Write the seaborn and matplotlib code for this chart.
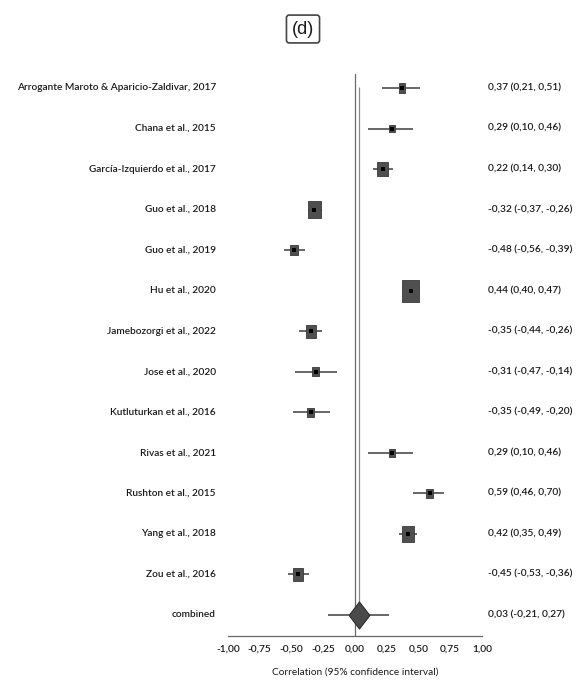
import numpy as np
import pandas as pd
import matplotlib
matplotlib.use("Agg")
import matplotlib.pyplot as plt
from matplotlib.markers import MarkerStyle
import seaborn as sns

# Study-level correlations with 95% confidence intervals
studies = [
    "Arrogante Maroto & Aparicio-Zaldivar, 2017",
    "Chana et al., 2015",
    "García-Izquierdo et al., 2017",
    "Guo et al., 2018",
    "Guo et al., 2019",
    "Hu et al., 2020",
    "Jamebozorgi et al., 2022",
    "Jose et al., 2020",
    "Kutluturkan et al., 2016",
    "Rivas et al., 2021",
    "Rushton et al., 2015",
    "Yang et al., 2018",
    "Zou et al., 2016",
]
r = [0.37, 0.29, 0.22, -0.32, -0.48, 0.44, -0.35, -0.31, -0.35, 0.29, 0.59, 0.42, -0.45]
ci_low = [0.21, 0.10, 0.14, -0.37, -0.56, 0.40, -0.44, -0.47, -0.49, 0.10, 0.46, 0.35, -0.53]
ci_high = [0.51, 0.46, 0.30, -0.26, -0.39, 0.47, -0.26, -0.14, -0.20, 0.46, 0.70, 0.49, -0.36]
# relative study weights (%)
weight = [3.9, 2.9, 9.6, 13.5, 5.1, 23.0, 8.0, 3.9, 3.9, 2.9, 3.9, 11.5, 8.0]

# Pooled estimate
pooled_label = "combined"
pooled_r = 0.03
pooled_low = -0.21
pooled_high = 0.27

xticks = [-1.00, -0.75, -0.50, -0.25, 0.00, 0.25, 0.50, 0.75, 1.00]
xlabel = "Correlation (95% confidence interval)"
panel = "(d)"


def fmt(v):
    return f"{v:.2f}".replace(".", ",")


df = pd.DataFrame({"study": studies, "r": r, "lo": ci_low, "hi": ci_high, "weight": weight})
df["row"] = np.arange(len(df))
pooled_row = len(df)

sns.set_theme(style="white")
plt.rcParams["font.family"] = ["Lato", "DejaVu Sans"]
plt.rcParams["font.weight"] = "semibold"
FS = 7.3
TXT = "#1a1a1a"

W, H = 580, 686
fig = plt.figure(figsize=(W / 100, H / 100), dpi=100)
ax = fig.add_axes([228 / W, 1 - 636 / H, 254 / W, (636 - 74) / H])

# reference line at zero and line at the pooled estimate
ax.axvline(0, color="#6a6a6a", lw=0.9, zorder=1)
ax.vlines(pooled_r, -0.02, pooled_row - 0.33, color="#8a8a8a", lw=0.9, zorder=1)

# confidence intervals
ax.hlines(df["row"], df["lo"], df["hi"], color="#5c5c5c", lw=1.3, zorder=2)

# weighted boxes (slightly taller than wide)
box = MarkerStyle([(-1, -1.3), (1, -1.3), (1, 1.3), (-1, 1.3), (-1, -1.3)])
k = 10.9
sns.scatterplot(
    data=df, x="r", y="row", size="weight",
    sizes=(k * min(weight), k * max(weight)),
    marker=box, color="#4f4f4f", edgecolor="#3a3a3a", linewidth=0.6,
    legend=False, ax=ax, zorder=3,
)
# point estimate
ax.scatter(df["r"], df["row"], marker=box, s=9, color="black", linewidths=0, zorder=4)

# pooled estimate: CI line and diamond
ax.hlines(pooled_row, pooled_low, pooled_high, color="#5c5c5c", lw=1.3, zorder=2)
diamond = MarkerStyle([(-1, 0), (0, 1.3), (1, 0), (0, -1.3), (-1, 0)])
ax.scatter([pooled_r], [pooled_row], marker=diamond, s=378, color="#4a4a4a",
           edgecolors="#2e2e2e", linewidths=0.8, zorder=3)

# row labels and values
labels = list(df["study"]) + [pooled_label]
vals = list(zip(r, ci_low, ci_high)) + [(pooled_r, pooled_low, pooled_high)]
for i, (lab, (e, lo, hi)) in enumerate(zip(labels, vals)):
    ax.text(-1.095, i, lab, ha="right", va="center", fontsize=FS,
            color=TXT, clip_on=False)
    ax.text(1.05, i, f"{fmt(e)} ({fmt(lo)}, {fmt(hi)})", ha="left", va="center",
            fontsize=FS, color=TXT, clip_on=False)

ax.set_xlim(-1, 1)
ax.set_ylim(pooled_row + 0.52, -0.345)
ax.set_yticks([])
ax.set_xticks(xticks)
ax.set_xticklabels([fmt(t) for t in xticks])
ax.tick_params(axis="x", direction="inout", length=5, width=0.8, color="#666666",
               labelsize=FS, pad=4, labelcolor=TXT)
for side in ["top", "right", "left"]:
    ax.spines[side].set_visible(False)
ax.spines["bottom"].set_color("#666666")
ax.spines["bottom"].set_linewidth(0.9)
ax.set_xlabel(xlabel, fontsize=FS, color=TXT, labelpad=10)
ax.set_ylabel("")

fig.text(303 / W, 1 - 29 / H, panel, ha="center", va="center", fontsize=13,
         family=["Liberation Sans", "DejaVu Sans"], fontweight="normal", color=TXT,
         bbox=dict(boxstyle="round,pad=0.3,rounding_size=0.15", fc="white",
                   ec="#444444", lw=1.2))

fig.savefig("out.png", dpi=100)
